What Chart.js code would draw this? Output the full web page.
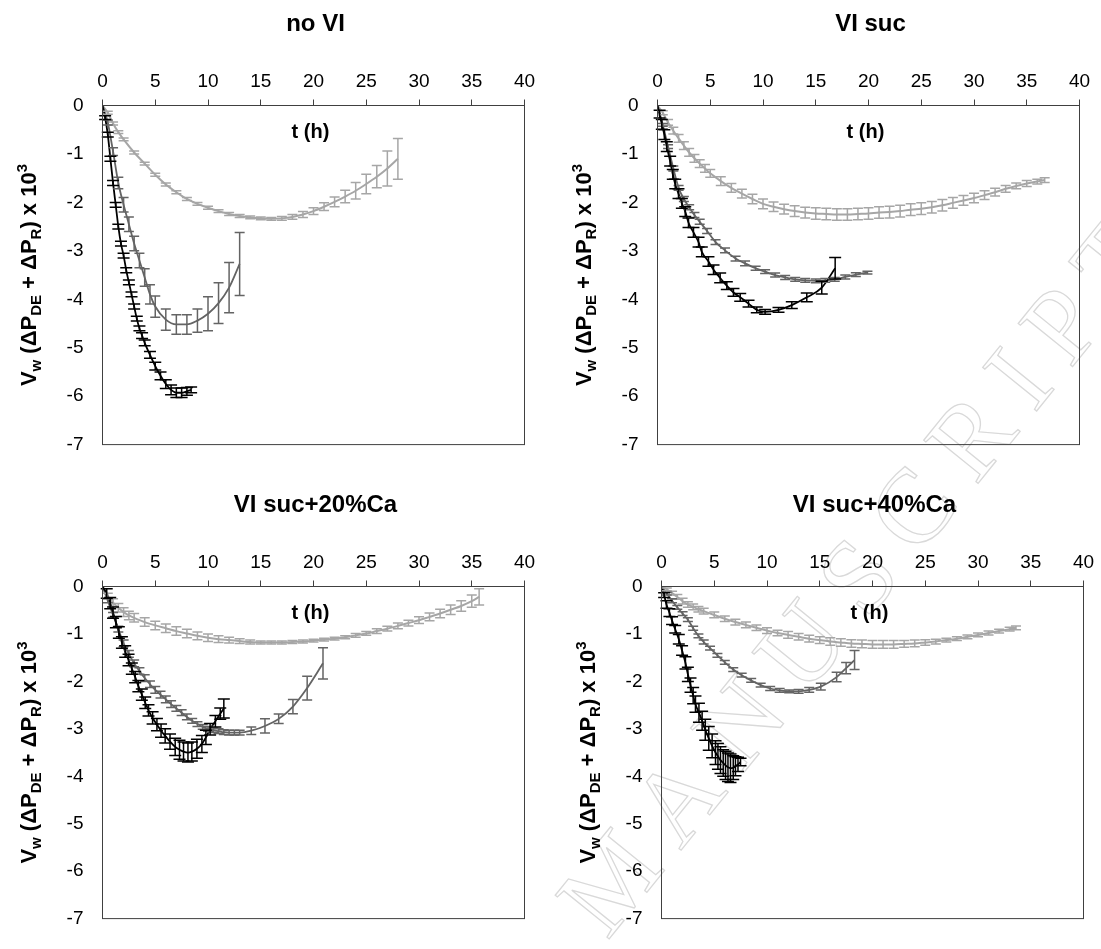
<!DOCTYPE html>
<html>
<head>
<meta charset="utf-8">
<script src="https://cdn.jsdelivr.net/npm/chart.js@4.4.1/dist/chart.umd.min.js"></script>
<style>
  html, body { margin: 0; padding: 0; background: #ffffff; }
  #wrap { position: relative; width: 1101px; height: 949px; overflow: hidden; background: #ffffff; }
  canvas.pane { position: absolute; }
  #wm {
    position: absolute; left: 612px; top: 945px;
    transform-origin: 0 0; transform: rotate(-51deg) translate(0, -94px);
    font-family: 'Liberation Serif', 'Times New Roman', serif; font-size: 106px; line-height: 1;
    letter-spacing: 22px; white-space: nowrap; color: transparent;
    -webkit-text-stroke: 1.3px #d9d9d9;
  }
</style>
</head>
<body>
<div id="wrap">
  <div id="wm">MANUSCRIPT</div>
  <canvas id="c1" class="pane" width="550" height="475" style="left:0px;top:0px"></canvas>
  <canvas id="c2" class="pane" width="551" height="475" style="left:550px;top:0px"></canvas>
  <canvas id="c3" class="pane" width="550" height="474" style="left:0px;top:475px"></canvas>
  <canvas id="c4" class="pane" width="551" height="474" style="left:550px;top:475px"></canvas>
</div>
<script>
// ---------------- DATA ----------------
const panelTitles = ['no VI', 'VI suc', 'VI suc+20%Ca', 'VI suc+40%Ca'];
const xAxisTitle = 't (h)';
const xTickRange = [0, 40, 5];   // min, max, step
const yTickRange = [-7, 0, 1];

// Panel 1: no VI
const p1LightT = [0,0.5,1,1.5,2,3,4,5,6,7,8,9,10,11,12,13,14,15,16,17,18,19,20,21,22,23,24,25,26,27,28];
const p1LightV = [0,-0.15,-0.37,-0.55,-0.7,-0.97,-1.2,-1.43,-1.63,-1.79,-1.93,-2.03,-2.11,-2.18,-2.24,-2.28,-2.31,-2.33,-2.34,-2.33,-2.3,-2.25,-2.18,-2.09,-1.99,-1.88,-1.76,-1.62,-1.47,-1.3,-1.1];
const p1LightE = [0,0.03,0.03,0.03,0.03,0.03,0.03,0.03,0.03,0.03,0.03,0.03,0.03,0.03,0.03,0.03,0.03,0.03,0.03,0.04,0.05,0.06,0.07,0.08,0.1,0.13,0.17,0.2,0.23,0.36,0.42];
const p1MidT = [0,0.5,1,1.5,2,2.5,3,3.5,4,4.5,5,6,7,8,9,10,11,12,13];
const p1MidV = [0,-0.35,-0.95,-1.6,-2.05,-2.45,-2.85,-3.2,-3.55,-3.9,-4.15,-4.42,-4.52,-4.52,-4.44,-4.3,-4.08,-3.76,-3.27];
const p1MidE = [0,0.05,0.08,0.12,0.15,0.15,0.15,0.15,0.18,0.2,0.22,0.22,0.2,0.2,0.24,0.35,0.42,0.52,0.65];
const p1BlackT = [0,0.25,0.5,0.75,1,1.25,1.5,1.75,2,2.25,2.5,2.75,3,3.25,3.5,3.75,4,4.5,5,5.5,6,6.5,7,7.5,8,8.4];
const p1BlackV = [0,-0.25,-0.6,-1.1,-1.6,-2.05,-2.5,-2.85,-3.1,-3.4,-3.65,-3.9,-4.15,-4.4,-4.6,-4.75,-4.9,-5.15,-5.38,-5.58,-5.75,-5.87,-5.93,-5.93,-5.9,-5.87];
const p1BlackE = [0,0.04,0.05,0.05,0.05,0.05,0.05,0.05,0.05,0.05,0.05,0.05,0.05,0.05,0.05,0.06,0.06,0.07,0.08,0.08,0.09,0.1,0.1,0.1,0.08,0.06];

// Panel 2: VI suc
const p2LightT = [0,0.5,1,1.5,2,2.5,3,3.5,4,4.5,5,6,7,8,9,10,11,12,13,14,15,16,17,18,19,20,21,22,23,24,25,26,27,28,29,30,31,32,33,34,35,36,36.7];
const p2LightV = [0,-0.15,-0.35,-0.52,-0.68,-0.83,-0.97,-1.09,-1.2,-1.3,-1.4,-1.56,-1.7,-1.82,-1.93,-2.03,-2.09,-2.14,-2.18,-2.21,-2.23,-2.24,-2.25,-2.25,-2.24,-2.23,-2.21,-2.2,-2.18,-2.15,-2.13,-2.1,-2.06,-2.01,-1.96,-1.91,-1.85,-1.79,-1.72,-1.66,-1.61,-1.57,-1.54];
const p2LightE = [0,0.04,0.06,0.07,0.08,0.08,0.08,0.08,0.08,0.08,0.08,0.09,0.09,0.09,0.1,0.1,0.1,0.1,0.11,0.11,0.12,0.12,0.12,0.12,0.12,0.12,0.12,0.12,0.12,0.12,0.12,0.12,0.12,0.11,0.1,0.1,0.09,0.08,0.07,0.06,0.06,0.05,0.05];
const p2MidT = [0,0.5,1,1.5,2,2.5,3,3.5,4,4.7,5.5,6.4,7.4,8.3,9.3,10.2,11.15,12.1,13.05,14,15,15.9,16.8,17.8,18.8,19.9];
const p2MidV = [0,-0.4,-0.85,-1.3,-1.7,-1.93,-2.1,-2.26,-2.4,-2.59,-2.82,-2.99,-3.16,-3.26,-3.36,-3.43,-3.5,-3.55,-3.59,-3.61,-3.62,-3.61,-3.59,-3.54,-3.49,-3.45];
const p2MidE = [0,0.03,0.04,0.05,0.05,0.05,0.05,0.05,0.05,0.05,0.05,0.05,0.05,0.05,0.04,0.04,0.04,0.04,0.04,0.04,0.04,0.04,0.04,0.04,0.04,0.03];
const p2BlackT = [0,0.2,0.41,0.65,0.88,1.2,1.45,1.68,1.99,2.31,2.63,2.94,3.41,3.89,4.2,4.83,5.31,5.94,6.57,7.2,7.84,8.63,9.41,10.2,11.47,12.73,14.15,15.57,16.84];
const p2BlackV = [0,-0.18,-0.39,-0.6,-0.85,-1.15,-1.42,-1.62,-1.82,-2.02,-2.19,-2.42,-2.62,-2.82,-3.02,-3.22,-3.39,-3.56,-3.72,-3.86,-3.96,-4.09,-4.22,-4.26,-4.22,-4.12,-3.96,-3.76,-3.36];
const p2BlackE = [0,0.08,0.1,0.1,0.1,0.1,0.1,0.1,0.1,0.1,0.1,0.1,0.1,0.1,0.1,0.1,0.1,0.1,0.08,0.08,0.08,0.07,0.06,0.05,0.05,0.07,0.09,0.13,0.22];

// Panel 3: VI suc+20%Ca
const p3LightT = [0,0.5,1,1.5,2,2.5,3,4,5,6,7,8,9,10,11,12,13,14,15,16,17,18,19,20,21,22,23,24,25,26,27,28,29,30,31,32,33,34,35,35.7];
const p3LightV = [0,-0.2,-0.34,-0.45,-0.54,-0.61,-0.66,-0.75,-0.82,-0.88,-0.94,-0.99,-1.04,-1.08,-1.11,-1.13,-1.15,-1.17,-1.18,-1.18,-1.18,-1.17,-1.16,-1.14,-1.12,-1.1,-1.07,-1.03,-0.99,-0.94,-0.89,-0.83,-0.77,-0.71,-0.64,-0.57,-0.49,-0.41,-0.31,-0.22];
const p3LightE = [0,0.06,0.08,0.09,0.09,0.09,0.09,0.09,0.09,0.09,0.09,0.09,0.08,0.08,0.07,0.06,0.05,0.04,0.03,0.03,0.03,0.03,0.03,0.03,0.03,0.03,0.03,0.04,0.04,0.05,0.05,0.06,0.06,0.07,0.08,0.09,0.1,0.11,0.13,0.17];
const p3MidT = [0,0.5,1,1.5,2,2.5,3,3.5,4,4.5,5,5.5,6,6.5,7,7.5,8,8.5,9,9.5,10,10.5,11,11.5,12,12.5,13,14.1,15.4,16.7,18.05,19.4,20.9];
const p3MidV = [0,-0.3,-0.6,-0.9,-1.2,-1.42,-1.62,-1.78,-1.93,-2.06,-2.18,-2.28,-2.38,-2.48,-2.57,-2.66,-2.75,-2.83,-2.9,-2.96,-3.0,-3.03,-3.05,-3.07,-3.08,-3.08,-3.08,-3.04,-2.94,-2.79,-2.53,-2.14,-1.62];
const p3MidE = [0,0.04,0.05,0.06,0.07,0.07,0.07,0.07,0.07,0.07,0.07,0.07,0.07,0.07,0.06,0.06,0.06,0.05,0.05,0.05,0.05,0.05,0.05,0.05,0.05,0.05,0.05,0.08,0.15,0.1,0.15,0.25,0.33];
const p3BlackT = [0,0.4,0.73,1.0,1.27,1.55,1.84,2.15,2.47,2.78,3.1,3.4,3.73,4.05,4.36,4.75,5.16,5.55,5.94,6.4,6.89,7.3,7.68,8.1,8.47,8.95,9.42,9.8,10.2,10.7,11.16,11.5];
const p3BlackV = [0,-0.15,-0.35,-0.55,-0.75,-0.97,-1.18,-1.37,-1.55,-1.73,-1.91,-2.1,-2.28,-2.45,-2.61,-2.77,-2.91,-3.04,-3.15,-3.27,-3.38,-3.44,-3.48,-3.5,-3.48,-3.42,-3.32,-3.18,-3.01,-2.84,-2.68,-2.57];
const p3BlackE = [0,0.1,0.12,0.12,0.12,0.12,0.12,0.12,0.12,0.12,0.12,0.12,0.12,0.12,0.12,0.13,0.13,0.14,0.15,0.16,0.18,0.2,0.2,0.2,0.2,0.2,0.18,0.15,0.12,0.12,0.12,0.2];

// Panel 4: VI suc+40%Ca
const p4LightT = [0,0.5,1,1.5,2,2.5,3,3.5,4,5,6,7,8,9,10,11,12,13,14,15,16,17,18,19,20,21,22,23,24,25,26,27,28,29,30,31,32,33,33.6];
const p4LightV = [0,-0.06,-0.14,-0.22,-0.31,-0.38,-0.43,-0.48,-0.52,-0.6,-0.68,-0.75,-0.81,-0.87,-0.93,-0.98,-1.02,-1.06,-1.1,-1.13,-1.16,-1.18,-1.2,-1.21,-1.22,-1.22,-1.22,-1.21,-1.2,-1.18,-1.16,-1.13,-1.1,-1.06,-1.02,-0.98,-0.94,-0.9,-0.87];
const p4LightE = [0,0.03,0.04,0.05,0.06,0.06,0.06,0.06,0.06,0.06,0.06,0.06,0.06,0.06,0.06,0.06,0.07,0.07,0.07,0.07,0.08,0.08,0.08,0.08,0.08,0.08,0.08,0.07,0.07,0.06,0.05,0.04,0.04,0.04,0.04,0.04,0.04,0.04,0.04];
const p4MidT = [0,0.5,1,1.5,2,2.5,3,3.5,4,4.6,5.3,6,6.8,7.6,8.5,9.4,10.3,11.2,12.1,13,14,15.1,16.6,17.5,18.3];
const p4MidV = [0,-0.15,-0.3,-0.44,-0.57,-0.7,-0.88,-1.04,-1.17,-1.3,-1.45,-1.6,-1.75,-1.87,-1.98,-2.08,-2.15,-2.19,-2.21,-2.21,-2.18,-2.11,-1.91,-1.72,-1.55];
const p4MidE = [0,0.03,0.04,0.04,0.04,0.04,0.04,0.04,0.04,0.04,0.04,0.04,0.04,0.04,0.04,0.04,0.04,0.04,0.03,0.04,0.05,0.07,0.1,0.12,0.2];
const p4BlackT = [0,0.25,0.47,0.75,1.0,1.3,1.64,1.95,2.27,2.5,2.75,3.0,3.22,3.55,3.85,4.15,4.48,4.8,5.12,5.35,5.59,5.85,6.07,6.3,6.54,6.8,7.01,7.25,7.49];
const p4BlackV = [0,-0.18,-0.38,-0.55,-0.72,-0.9,-1.11,-1.35,-1.61,-1.85,-2.08,-2.3,-2.48,-2.66,-2.83,-3.02,-3.2,-3.36,-3.5,-3.58,-3.66,-3.72,-3.77,-3.81,-3.83,-3.82,-3.79,-3.75,-3.7];
const p4BlackE = [0,0.05,0.08,0.08,0.08,0.08,0.1,0.1,0.13,0.15,0.15,0.17,0.17,0.2,0.2,0.22,0.25,0.25,0.25,0.27,0.28,0.28,0.3,0.3,0.3,0.25,0.2,0.15,0.08];

// ---------------- STYLE / LAYOUT ----------------
const FONT = "Arial, 'Liberation Sans', Helvetica, sans-serif";
const COLORS = { light: '#a6a6a6', mid: '#646464', black: '#000000' };
const AXIS_COLOR = '#404040';
const Y_AXIS_W = 80, X_AXIS_H = 60;

// chart-area rectangles (in canvas-local px): left, top, right, bottom
const panels = [
  { id: 'c1', w: 550, h: 475, area: [102.5, 105.5, 524.5, 456.5], title: panelTitles[0],
    series: [[p1BlackT, p1BlackV, p1BlackE, 'black'], [p1MidT, p1MidV, p1MidE, 'mid'], [p1LightT, p1LightV, p1LightE, 'light']] },
  { id: 'c2', w: 551, h: 475, area: [107.5, 105.5, 529.5, 456.5], title: panelTitles[1],
    series: [[p2BlackT, p2BlackV, p2BlackE, 'black'], [p2MidT, p2MidV, p2MidE, 'mid'], [p2LightT, p2LightV, p2LightE, 'light']] },
  { id: 'c3', w: 550, h: 474, area: [102.5, 111.5, 524.5, 462.5], title: panelTitles[2],
    series: [[p3BlackT, p3BlackV, p3BlackE, 'black'], [p3MidT, p3MidV, p3MidE, 'mid'], [p3LightT, p3LightV, p3LightE, 'light']] },
  { id: 'c4', w: 551, h: 474, area: [111.5, 111.5, 533.5, 462.5], title: panelTitles[3],
    series: [[p4BlackT, p4BlackV, p4BlackE, 'black'], [p4MidT, p4MidV, p4MidE, 'mid'], [p4LightT, p4LightV, p4LightE, 'light']] }
];

// ---------------- PLUGINS ----------------
const errorBars = {
  id: 'errorBars',
  afterDatasetsDraw(chart) {
    const ctx = chart.ctx, xs = chart.scales.x, ys = chart.scales.y;
    const dss = chart.data.datasets;
    for (let i = dss.length - 1; i >= 0; i--) {
      const ds = dss[i];
      if (!ds.errors) continue;
      const cw = ds.capHalf || 5;
      ctx.save();
      ctx.strokeStyle = ds.borderColor;
      ctx.lineWidth = 1.5;
      ds.data.forEach((p, k) => {
        const e = ds.errors[k];
        if (!e) return;
        const x = xs.getPixelForValue(p.x);
        const y1 = ys.getPixelForValue(p.y + e);
        const y2 = ys.getPixelForValue(p.y - e);
        ctx.beginPath();
        ctx.moveTo(x, y1); ctx.lineTo(x, y2);
        ctx.moveTo(x - cw, y1); ctx.lineTo(x + cw, y1);
        ctx.moveTo(x - cw, y2); ctx.lineTo(x + cw, y2);
        ctx.stroke();
      });
      ctx.restore();
    }
  }
};

function drawYLabel(ctx, bx, cy) {
  const parts = [
    ['V', 0], ['w', 1], [' (\u0394P', 0], ['DE', 1], [' + \u0394P', 0], ['R', 1], [') x 10', 0], ['3', 2]
  ];
  const fMain = `bold 22px ${FONT}`, fSmall = `bold 15px ${FONT}`;
  ctx.save();
  ctx.translate(bx, cy);
  ctx.rotate(-Math.PI / 2);
  let total = 0;
  const widths = parts.map(([s, k]) => { ctx.font = k ? fSmall : fMain; const w = ctx.measureText(s).width; total += w; return w; });
  let x = -total / 2;
  ctx.textAlign = 'left';
  ctx.textBaseline = 'alphabetic';
  ctx.fillStyle = '#000';
  parts.forEach(([s, k], i) => {
    ctx.font = k ? fSmall : fMain;
    const dy = k === 1 ? 5 : (k === 2 ? -9 : 0);
    ctx.fillText(s, x, dy);
    x += widths[i];
  });
  ctx.restore();
}

const deco = {
  id: 'deco',
  afterDraw(chart, args, opts) {
    const ctx = chart.ctx, a = chart.chartArea;
    ctx.save();
    ctx.strokeStyle = AXIS_COLOR;
    ctx.lineWidth = 1;
    ctx.strokeRect(a.left, a.top, a.right - a.left, a.bottom - a.top);
    ctx.fillStyle = '#000';
    ctx.textAlign = 'center';
    ctx.textBaseline = 'alphabetic';
    ctx.font = `bold 24px ${FONT}`;
    ctx.fillText(opts.title, (a.left + a.right) / 2 + 2, a.top - 75);
    ctx.font = `bold 20px ${FONT}`;
    ctx.fillText(xAxisTitle, (a.left + a.right) / 2 - 3, a.top + 32);
    ctx.restore();
    drawYLabel(ctx, a.left - 67, (a.top + a.bottom) / 2);
  }
};

// ---------------- BUILD ----------------
panels.forEach(p => {
  const [L, T, R, B] = p.area;
  const datasets = p.series.map(([tArr, vArr, eArr, key]) => ({
    data: tArr.map((t, i) => ({ x: t, y: vArr[i] })),
    errors: eArr,
    borderColor: COLORS[key],
    backgroundColor: COLORS[key],
    borderWidth: key === 'light' ? 2 : 1.8,
    pointRadius: 0,
    fill: false,
    cubicInterpolationMode: 'monotone',
    capHalf: key === 'black' ? 6 : 5
  }));
  new Chart(document.getElementById(p.id), {
    type: 'line',
    data: { datasets },
    options: {
      responsive: false,
      animation: false,
      devicePixelRatio: 1,
      events: [],
      layout: { padding: { left: L - Y_AXIS_W, top: T - X_AXIS_H, right: p.w - R, bottom: p.h - B } },
      scales: {
        x: {
          type: 'linear', position: 'top', min: xTickRange[0], max: xTickRange[1],
          ticks: { stepSize: xTickRange[2], color: '#000', font: { family: FONT, size: 19 }, padding: 6, maxRotation: 0, autoSkip: false },
          grid: { display: true, drawOnChartArea: false, drawTicks: true, tickLength: 6, color: AXIS_COLOR, lineWidth: 1 },
          border: { display: true, color: AXIS_COLOR, width: 1 },
          afterFit(s) { s.height = X_AXIS_H; }
        },
        y: {
          type: 'linear', min: yTickRange[0], max: yTickRange[1],
          ticks: { stepSize: yTickRange[2], color: '#000', font: { family: FONT, size: 19 }, padding: 19 },
          grid: { display: false, drawTicks: false },
          border: { display: false },
          afterFit(s) { s.width = Y_AXIS_W; }
        }
      },
      plugins: {
        legend: { display: false },
        tooltip: { enabled: false },
        title: { display: false },
        deco: { title: p.title }
      }
    },
    plugins: [errorBars, deco]
  });
});
</script>
</body>
</html>
